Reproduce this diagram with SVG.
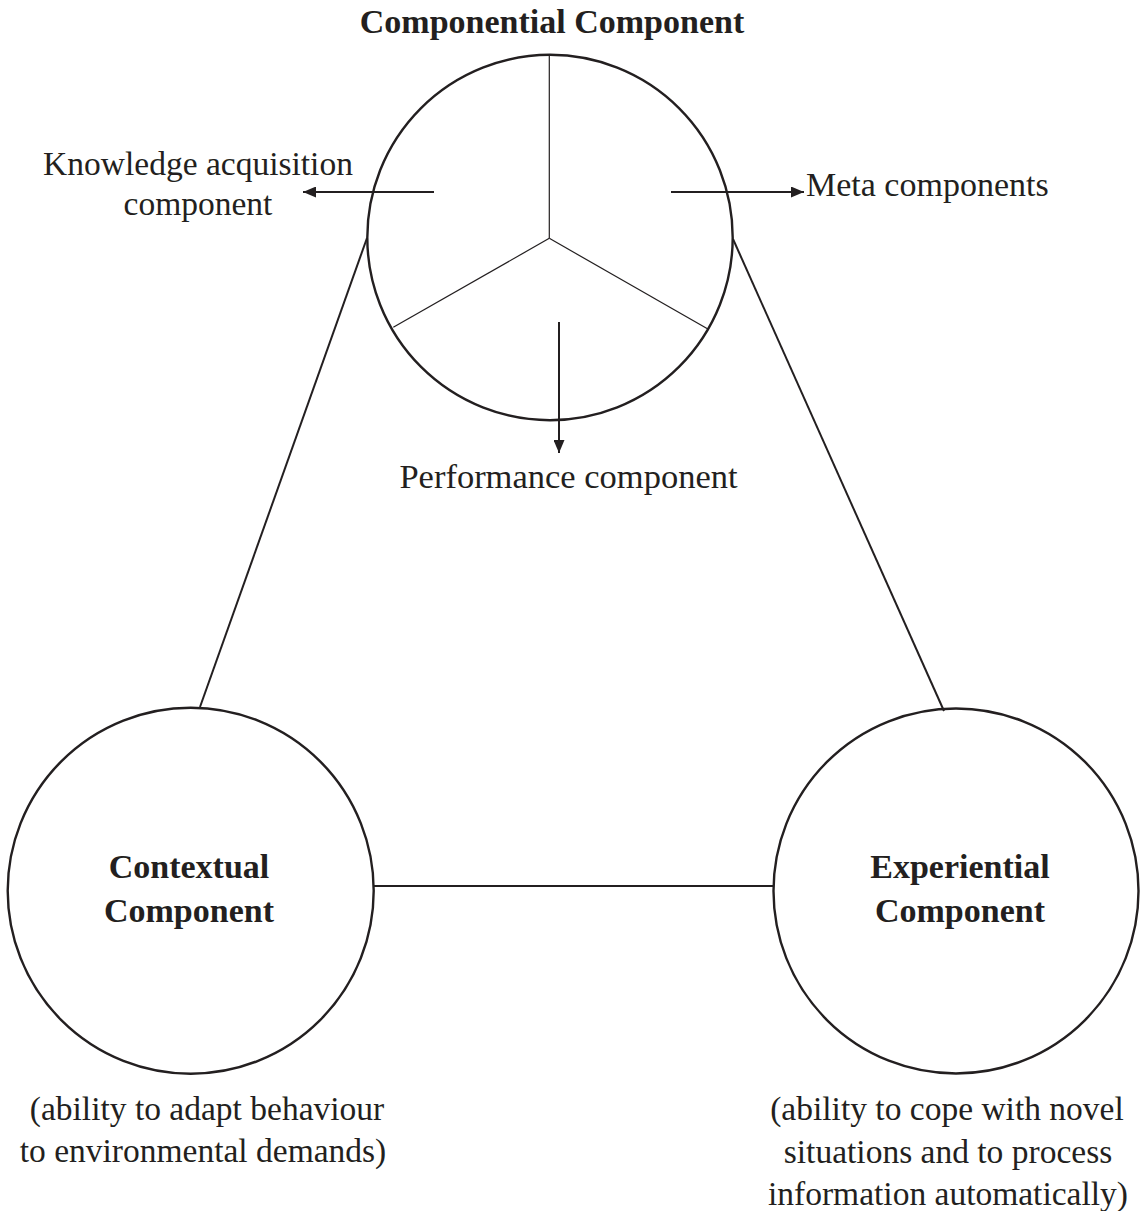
<svg xmlns="http://www.w3.org/2000/svg" width="1140" height="1211" viewBox="0 0 1140 1211">
<defs>
<style>
.c{fill:none;stroke:#231f20;stroke-width:2.4}
.s{fill:none;stroke:#231f20;stroke-width:1.2}
.l{fill:none;stroke:#231f20;stroke-width:2}
.t{font-family:"Liberation Serif","Times New Roman",serif;font-size:33.5px;fill:#231f20;text-anchor:middle}
.b{font-weight:bold;font-size:34px}
</style>
<marker id="ah" viewBox="0 0 13 11" refX="13" refY="5.5" markerWidth="13" markerHeight="11" markerUnits="userSpaceOnUse" orient="auto">
<path d="M0,0 L13,5.5 L0,11 Z" fill="#231f20"/>
</marker>
</defs>
<rect width="1140" height="1211" fill="#fff"/>
<g id="connectors">
<line class="l" x1="367" y1="238" x2="200" y2="707"/>
<line class="l" x1="733" y1="239" x2="944" y2="711"/>
<line class="l" x1="374" y1="886" x2="773" y2="886"/>
<line class="l" x1="434" y1="192" x2="303" y2="192" marker-end="url(#ah)"/>
<line class="l" x1="671" y1="192" x2="804" y2="192" marker-end="url(#ah)"/>
<line class="l" x1="559" y1="322" x2="559" y2="453" marker-end="url(#ah)"/>
</g>
<g id="componential">
<circle class="c" cx="550" cy="237.5" r="182.7"/>
<line class="s" x1="549.3" y1="55" x2="549.3" y2="238.3"/>
<line class="s" x1="549.3" y1="238.3" x2="393.3" y2="327.3"/>
<line class="s" x1="549.3" y1="238.3" x2="708.3" y2="329.3"/>
<text class="t b" x="552" y="33">Componential Component</text>
</g>
<g id="knowledge">
<text class="t" x="198" y="175">Knowledge acquisition</text>
<text class="t" x="198" y="215">component</text>
</g>
<g id="meta">
<text class="t" x="806" y="196" style="text-anchor:start;font-size:34px">Meta components</text>
</g>
<g id="performance">
<text class="t" x="568.5" y="488" style="font-size:34.5px">Performance component</text>
</g>
<g id="contextual">
<circle class="c" cx="190.7" cy="890.7" r="183"/>
<text class="t b" x="189" y="878">Contextual</text>
<text class="t b" x="189" y="922">Component</text>
<text class="t" x="207" y="1120">(ability to adapt behaviour</text>
<text class="t" x="203" y="1162">to environmental demands)</text>
</g>
<g id="experiential">
<circle class="c" cx="956" cy="891" r="182.5"/>
<text class="t b" x="960" y="878">Experiential</text>
<text class="t b" x="960" y="922">Component</text>
<text class="t" x="947" y="1120">(ability to cope with novel</text>
<text class="t" x="948" y="1163">situations and to process</text>
<text class="t" x="948" y="1205">information automatically)</text>
</g>
</svg>
